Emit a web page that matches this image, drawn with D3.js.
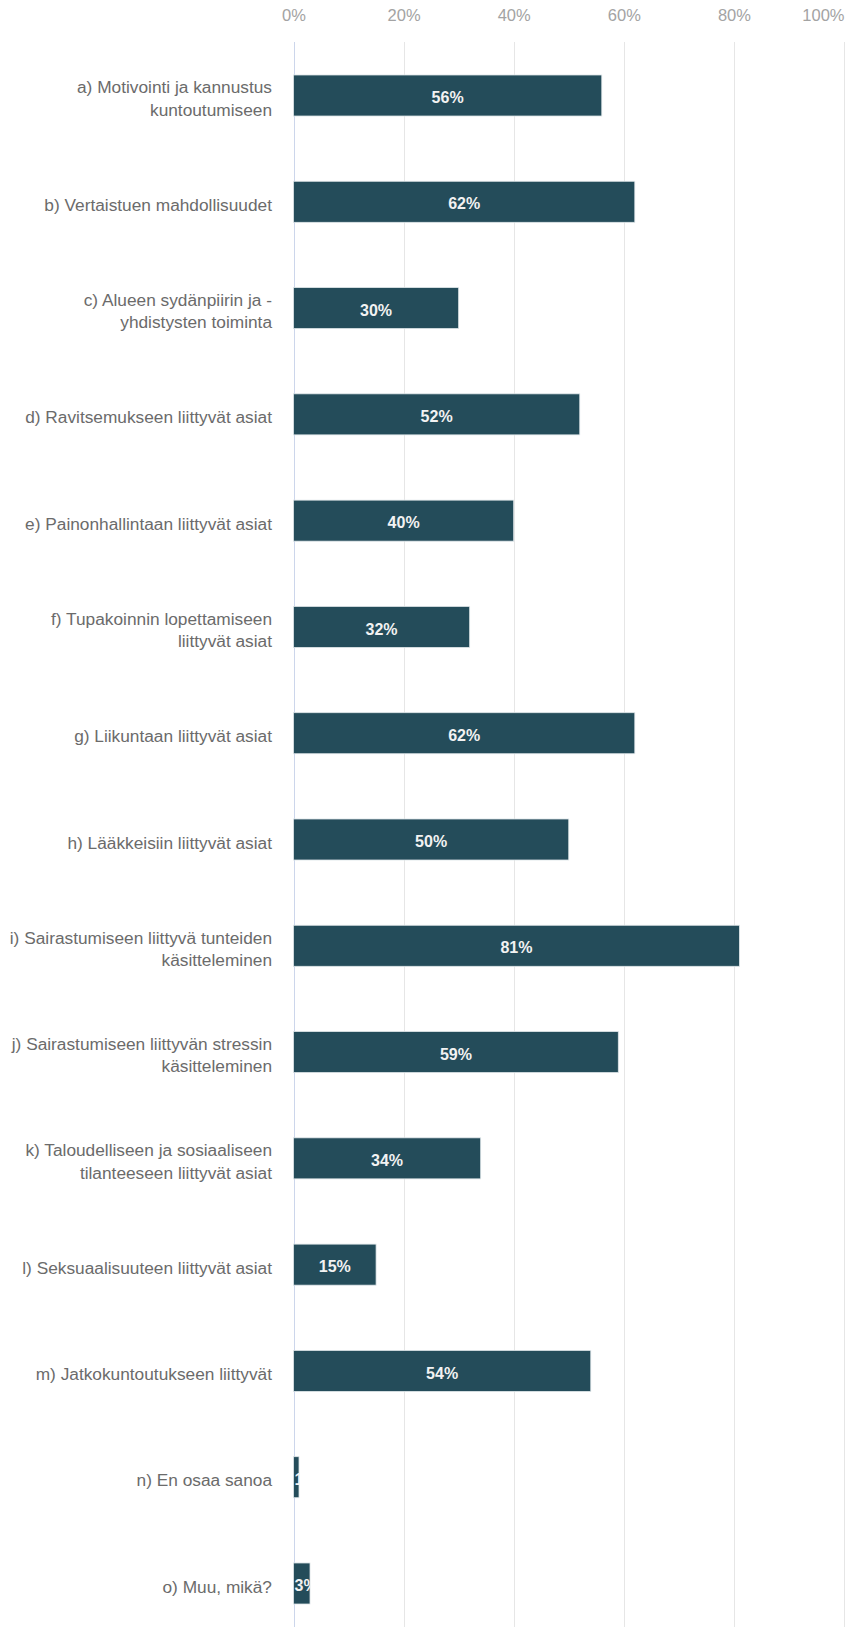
<!DOCTYPE html>
<html>
<head>
<meta charset="utf-8">
<script src="https://cdn.jsdelivr.net/npm/d3@7"></script>
<style>
  html, body { margin: 0; padding: 0; background: #fff; }
  svg { display: block; }
</style>
</head>
<body>
<svg id="chart" width="846" height="1627"></svg>
<script>
const categories = [
  "a) Motivointi ja kannustus\nkuntoutumiseen",
  "b) Vertaistuen mahdollisuudet",
  "c) Alueen sydänpiirin ja -\nyhdistysten toiminta",
  "d) Ravitsemukseen liittyvät asiat",
  "e) Painonhallintaan liittyvät asiat",
  "f) Tupakoinnin lopettamiseen\nliittyvät asiat",
  "g) Liikuntaan liittyvät asiat",
  "h) Lääkkeisiin liittyvät asiat",
  "i) Sairastumiseen liittyvä tunteiden\nkäsitteleminen",
  "j) Sairastumiseen liittyvän stressin\nkäsitteleminen",
  "k) Taloudelliseen ja sosiaaliseen\ntilanteeseen liittyvät asiat",
  "l) Seksuaalisuuteen liittyvät asiat",
  "m) Jatkokuntoutukseen liittyvät",
  "n) En osaa sanoa",
  "o) Muu, mikä?"
];
const values = [56, 62, 30, 52, 40, 32, 62, 50, 81, 59, 34, 15, 54, 1, 3];
const tickValues = [0, 20, 40, 60, 80, 100];
const tickLabels = ["0%", "20%", "40%", "60%", "80%", "100%"];

const svg = d3.select("#chart");
const W = 846, H = 1627;

const x = d3.scaleLinear().domain([0, 100]).range([293.5, 844]);
const y = d3.scaleBand().domain(categories).range([44, 1635])
  .paddingInner(0.614).paddingOuter(0.2916);

// grid lines
svg.append("g").selectAll("line").data(tickValues).join("line")
  .attr("x1", d => Math.round(x(d)) + 0.5).attr("x2", d => Math.round(x(d)) + 0.5)
  .attr("y1", 42).attr("y2", H)
  .attr("stroke", d => d === 0 ? "#ccd6eb" : "#e6e6e6")
  .attr("stroke-width", 1);

// top axis labels
const axis = d3.axisTop(x).tickValues(tickValues).tickSize(0)
  .tickFormat((d, i) => tickLabels[i]);
const gAxis = svg.append("g").attr("transform", "translate(0,24)").call(axis);
gAxis.select(".domain").remove();
gAxis.selectAll("text")
  .attr("fill", "#a3a3a3")
  .style("font-family", "Liberation Sans, Arial, sans-serif")
  .style("font-size", "16.5px")
  .attr("dy", "0")
  .attr("text-anchor", d => d === 100 ? "end" : "middle");

// bars
const defs = svg.append("defs");
categories.forEach((c, i) => {
  defs.append("clipPath").attr("id", "clip" + i)
    .append("rect")
    .attr("x", x(0)).attr("y", y(c))
    .attr("width", x(values[i]) - x(0)).attr("height", y.bandwidth());
});

svg.append("g").selectAll("rect").data(categories).join("rect")
  .attr("x", x(0))
  .attr("y", d => y(d))
  .attr("width", (d, i) => x(values[i]) - x(0))
  .attr("height", y.bandwidth())
  .attr("fill", "#244c5a")
  .attr("stroke", "#dfe6e9")
  .attr("stroke-width", 0.8);

// bar labels
const labG = svg.append("g");
categories.forEach((c, i) => {
  const bw = x(values[i]) - x(0);
  const t = labG.append("text")
    .attr("clip-path", "url(#clip" + i + ")")
    .attr("x", x(0) + bw / 2)
    .attr("y", y(c) + y.bandwidth() / 2 + 2)
    .attr("dy", "0.35em")
    .attr("text-anchor", "middle")
    .attr("fill", "#f2f2f2")
    .style("font-family", "Liberation Sans, Arial, sans-serif")
    .style("font-weight", "bold")
    .style("font-size", "16px")
    .text(values[i] + "%");
  const tw = t.node().getComputedTextLength();
  if (tw > bw - 2) {
    t.attr("x", x(0) + 1).attr("text-anchor", "start");
  }
});

// category labels
const catG = svg.append("g");
categories.forEach((c, i) => {
  const lines = c.split("\n");
  const lh = 22.5;
  const cy = y(c) + y.bandwidth() / 2 + 3;
  const t = catG.append("text")
    .attr("text-anchor", "end")
    .attr("fill", "#6b6b6b")
    .style("font-family", "Liberation Sans, Arial, sans-serif")
    .style("font-size", "17.3px");
  lines.forEach((ln, k) => {
    t.append("tspan")
      .attr("x", 272)
      .attr("y", cy + (k - (lines.length - 1) / 2) * lh)
      .attr("dy", "0.35em")
      .text(ln);
  });
});
</script>
</body>
</html>
